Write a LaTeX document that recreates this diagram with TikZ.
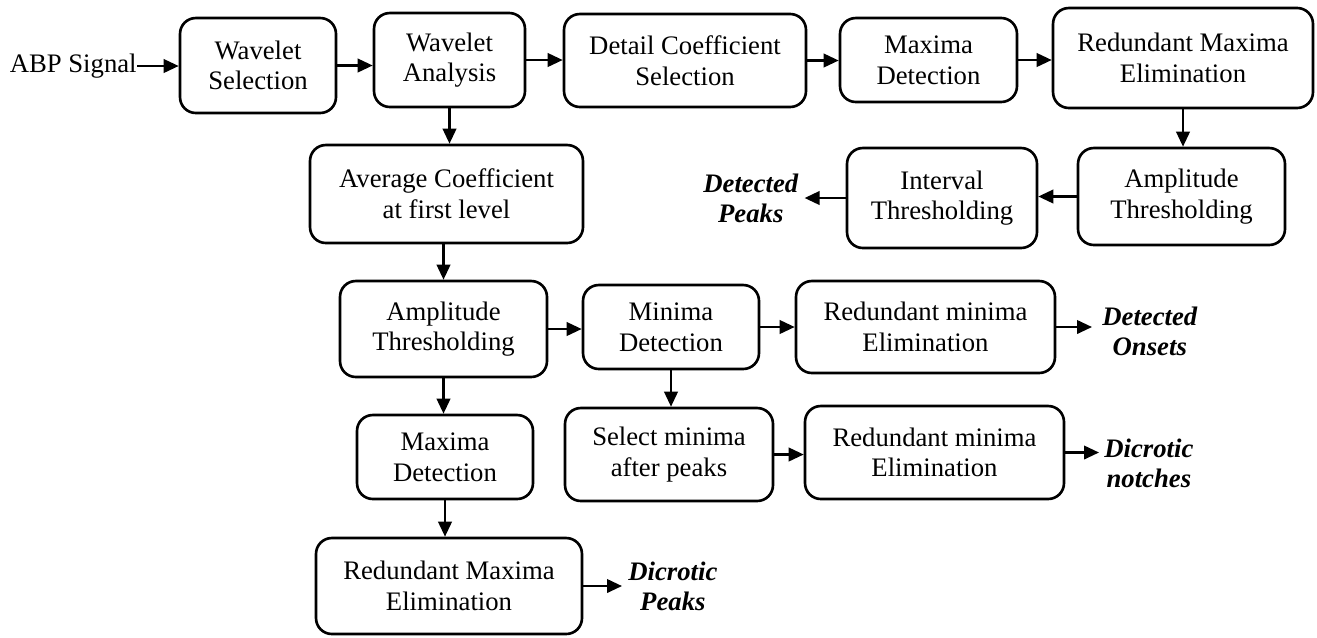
\documentclass[tikz,border=0pt]{standalone}
\usepackage{fontspec}
\setmainfont{Liberation Serif}
\usepackage{tikz}
\usetikzlibrary{arrows.meta,calc}

\tikzset{
  blk/.style={draw, line width=1.5pt, rounded corners=9pt, align=center, inner sep=0pt,
    font=\fontsize{15.2}{17.4}\selectfont},
  res/.style={align=center, anchor=west, inner sep=0pt,
    font=\fontsize{15.2}{17}\selectfont\bfseries\itshape},
  flow/.style={-{Triangle[length=0.3cm,width=0.27cm]}, line width=1.3pt}
}

\begin{document}
\begin{tikzpicture}[x=0.02cm, y=-0.02cm]
    \useasboundingbox (0,0) rectangle (1317,637);

    % Top row
    \node[blk, minimum width=3.12cm, minimum height=1.9cm] (ws) at (258,65.5) {Wavelet\\Selection};
    \node[blk, minimum width=3.02cm, minimum height=1.88cm] (wa) at (449.5,60) {Wavelet\\Analysis};
    \node[blk, minimum width=4.84cm, minimum height=1.86cm] (dcs) at (685,60.5) {Detail Coefficient\\Selection};
    \node[blk, minimum width=3.54cm, minimum height=1.68cm] (md) at (928.5,60) {Maxima\\Detection};
    \node[blk, minimum width=5.2cm, minimum height=2cm] (rme) at (1183,58) {Redundant Maxima\\Elimination};
    \node[anchor=east, inner sep=0pt, font=\fontsize{15.2}{17.4}\selectfont] (abp) at (137,66) {ABP Signal};

    % Peak branch
    \node[blk, minimum width=4.14cm, minimum height=1.94cm] (atr) at (1181.5,196.5) {Amplitude\\Thresholding};
    \node[blk, minimum width=3.8cm, minimum height=2cm] (it) at (942,198) {Interval\\Thresholding};
    \node[res] (dpk) at (703,198) {Detected\\Peaks};

    % Average coefficient branch
    \node[blk, minimum width=5.46cm, minimum height=1.96cm] (acf) at (446.5,194) {Average Coefficient\\at first level};
    \node[blk, minimum width=4.14cm, minimum height=1.92cm] (atm) at (443.5,329) {Amplitude\\Thresholding};
    \node[blk, minimum width=3.52cm, minimum height=1.68cm] (mnd) at (671,327) {Minima\\Detection};
    \node[blk, minimum width=5.18cm, minimum height=1.84cm] (rmt) at (925.5,327) {Redundant minima\\Elimination};
    \node[res] (don) at (1102,331) {Detected\\Onsets};

    \node[blk, minimum width=3.52cm, minimum height=1.68cm] (mxd) at (445,457) {Maxima\\Detection};
    \node[blk, minimum width=4.16cm, minimum height=1.86cm] (sel) at (669,454.5) {Select minima\\after peaks};
    \node[blk, minimum width=5.18cm, minimum height=1.86cm] (rmb) at (934.5,452.5) {Redundant minima\\Elimination};
    \node[res] (dno) at (1104,463) {Dicrotic\\notches};

    \node[blk, minimum width=5.32cm, minimum height=1.92cm] (rmx) at (449,586) {Redundant Maxima\\Elimination};
    \node[res] (dpe) at (628,586) {Dicrotic\\Peaks};

    % Connectors
    \draw[flow] (abp.east) -- (abp.east -| ws.west);
    \draw[flow] (ws.east) -- (ws.east -| wa.west);
    \draw[flow] (wa.east) -- (wa.east -| dcs.west);
    \draw[flow] (dcs.east) -- (dcs.east -| md.west);
    \draw[flow] (md.east) -- (md.east -| rme.west);
    \draw[flow] (rme.south) -- (rme.south |- atr.north);
    \draw[flow] (atr.west) -- (atr.west -| it.east);
    \draw[flow] (it.west) -- ($(it.west -| dpk.east)+(6,0)$);
    \draw[flow] (wa.south) -- (wa.south |- acf.north);
    \draw[flow] (atm.north |- acf.south) -- (atm.north);
    \draw[flow] (atm.east) -- (atm.east -| mnd.west);
    \draw[flow] (mnd.east) -- (mnd.east -| rmt.west);
    \draw[flow] (rmt.east) -- ($(rmt.east -| don.west)+(-10,0)$);
    \draw[flow] (atm.south) -- (atm.south |- mxd.north);
    \draw[flow] (mnd.south) -- (mnd.south |- sel.north);
    \draw[flow] (sel.east) -- (sel.east -| rmb.west);
    \draw[flow] (rmb.east) -- ($(rmb.east -| dno.west)+(-5,0)$);
    \draw[flow] (mxd.south) -- (mxd.south |- rmx.north);
    \draw[flow] (rmx.east) -- ($(rmx.east -| dpe.west)+(-6,0)$);
\end{tikzpicture}
\end{document}
